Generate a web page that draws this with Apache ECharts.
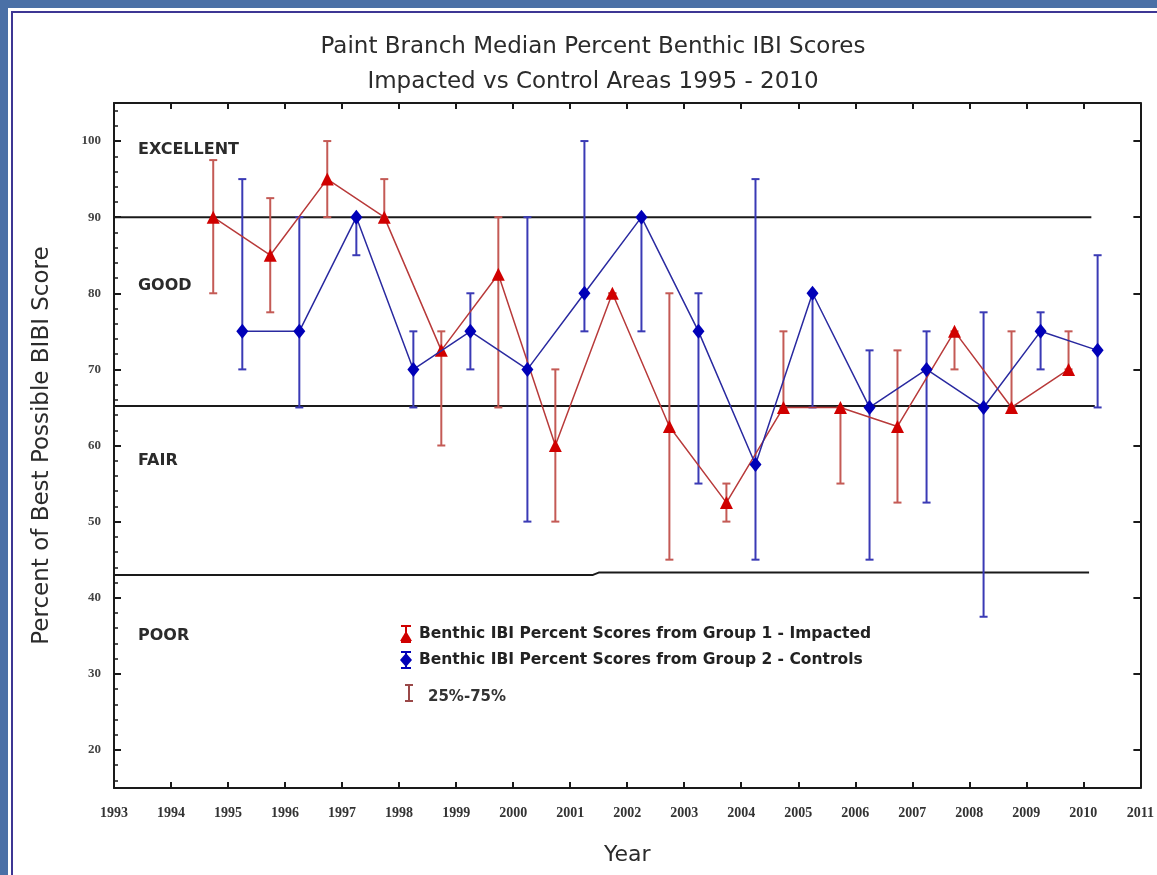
<!DOCTYPE html>
<html>
<head>
<meta charset="utf-8">
<title>Paint Branch Median Percent Benthic IBI Scores</title>
<script src="https://cdn.jsdelivr.net/npm/echarts@6/dist/echarts.min.js"></script>
<style>
  html, body { margin: 0; padding: 0; background: #ffffff; }
  #chart { width: 1157px; height: 875px; }
</style>
</head>
<body>
<div id="chart"></div>
<script>
// ---- data ----
const years = [1995, 1996, 1997, 1998, 1999, 2000, 2001, 2002, 2003, 2004, 2005, 2006, 2007, 2008, 2009, 2010];

// Group 1 - Impacted: median, 25th and 75th percentiles
const impactedMedian = [90, 85, 95, 90, 72.5, 82.5, 60, 80, 62.5, 52.5, 65, 65, 62.5, 75, 65, 70];
const impactedQ25    = [80, 77.5, 90, 90, 60, 65, 50, 80, 45, 50, 65, 55, 52.5, 70, 65, 70];
const impactedQ75    = [97.5, 92.5, 100, 95, 75, 90, 70, 80, 80, 55, 75, 65, 72.5, 75, 75, 75];

// Group 2 - Controls: median, 25th and 75th percentiles
const controlMedian = [75, 75, 90, 70, 75, 70, 80, 90, 75, 57.5, 80, 65, 70, 65, 75, 72.5];
const controlQ25    = [70, 65, 85, 65, 70, 50, 75, 75, 55, 45, 65, 45, 52.5, 37.5, 70, 65];
const controlQ75    = [95, 90, 90, 75, 80, 90, 100, 90, 80, 95, 80, 72.5, 75, 77.5, 77.5, 85];

// condition class boundaries (drawn as horizontal rules)
const boundaryExcellentGood = [[1993, 90], [2010.14, 90]];
const boundaryGoodFair      = [[1993, 65.2], [2010.2, 65.2]];
const boundaryFairPoor      = [[1993, 43.0], [2001.4, 43.0], [2001.5, 43.3], [2010.1, 43.3]];

// axis ticks
const xTickValues = [1993, 1994, 1995, 1996, 1997, 1998, 1999, 2000, 2001, 2002, 2003, 2004, 2005, 2006, 2007, 2008, 2009, 2010, 2011];
const yTickValues = [20, 30, 40, 50, 60, 70, 80, 90, 100];

// class labels
const classNames = ['EXCELLENT', 'GOOD', 'FAIR', 'POOR'];
const classLabelY = [98.8, 81, 58, 35];

// ---- layout / style ----
const IMPACTED_SHIFT = -0.26;
const CONTROL_SHIFT = 0.25;
const RED = '#d00000';
const RED_LINE = '#b83a3a';
const RED_BAR = '#c45a55';
const BLUE = '#0000b8';
const BLUE_LINE = '#2a2aa0';
const BLUE_BAR = '#3a3ab5';
const AXIS_COLOR = '#1a1a1a';
const TEXT = '#2b2b2b';

const yMinorTicks = [];
for (let v = 16; v <= 104; v += 2) { if (v % 10 !== 0) yMinorTicks.push(v); }

const impactedLine = years.map((y, i) => [y + IMPACTED_SHIFT, impactedMedian[i]]);
const controlLine = years.map((y, i) => [y + CONTROL_SHIFT, controlMedian[i]]);
const impactedBars = years.map((y, i) => [y + IMPACTED_SHIFT, impactedQ25[i], impactedQ75[i]]);
const controlBars = years.map((y, i) => [y + CONTROL_SHIFT, controlQ25[i], controlQ75[i]]);

function errorBarRenderer(color) {
  return function (params, api) {
    const x = api.value(0);
    const lo = api.coord([x, api.value(1)]);
    const hi = api.coord([x, api.value(2)]);
    const cap = 4;
    const style = { stroke: color, lineWidth: 2, fill: null };
    return {
      type: 'group',
      children: [
        { type: 'line', shape: { x1: lo[0], y1: lo[1], x2: hi[0], y2: hi[1] }, style: style },
        { type: 'line', shape: { x1: hi[0] - cap, y1: hi[1], x2: hi[0] + cap, y2: hi[1] }, style: style },
        { type: 'line', shape: { x1: lo[0] - cap, y1: lo[1], x2: lo[0] + cap, y2: lo[1] }, style: style }
      ]
    };
  };
}

function boundarySeries(data) {
  return {
    type: 'line', data: data, symbol: 'none', silent: true, z: 1,
    lineStyle: { color: AXIS_COLOR, width: 2 }, animation: false
  };
}

const plainNumber = v => String(v);

const chart = echarts.init(document.getElementById('chart'), null, { renderer: 'canvas' });

const grid = { left: 114, right: 16, top: 103, bottom: 87 };

const option = {
  backgroundColor: '#ffffff',
  animation: false,
  grid: grid,
  xAxis: [
    {
      type: 'value', min: 1993, max: 2011, interval: 1, position: 'bottom',
      name: 'Year', nameLocation: 'middle', nameGap: 56,
      nameTextStyle: { fontFamily: 'DejaVu Sans', fontSize: 22, color: TEXT },
      axisLine: { show: true, lineStyle: { color: AXIS_COLOR, width: 2 } },
      axisTick: { show: true, inside: true, length: 6, customValues: xTickValues, lineStyle: { color: AXIS_COLOR, width: 2 } },
      axisLabel: { customValues: xTickValues, formatter: plainNumber, margin: 18, fontFamily: 'Liberation Serif', fontWeight: 'bold', fontSize: 14, color: '#333' },
      splitLine: { show: false }
    },
    {
      type: 'value', min: 1993, max: 2011, interval: 1, position: 'top',
      axisLine: { show: true, lineStyle: { color: AXIS_COLOR, width: 2 } },
      axisTick: { show: true, inside: true, length: 6, customValues: xTickValues, lineStyle: { color: AXIS_COLOR, width: 2 } },
      axisLabel: { show: false },
      splitLine: { show: false }
    }
  ],
  yAxis: [
    {
      type: 'value', min: 15, max: 105, position: 'left',
      name: 'Percent of Best Possible BIBI Score', nameLocation: 'middle', nameGap: 60, nameRotate: 90,
      nameTextStyle: { fontFamily: 'DejaVu Sans', fontSize: 23, color: TEXT },
      axisLine: { show: true, lineStyle: { color: AXIS_COLOR, width: 2 } },
      axisTick: { show: true, inside: true, length: 7, customValues: yTickValues, lineStyle: { color: AXIS_COLOR, width: 2 } },
      axisLabel: { customValues: yTickValues, formatter: plainNumber, margin: 13, fontFamily: 'Liberation Serif', fontWeight: 'bold', fontSize: 13, color: '#444' },
      splitLine: { show: false }
    },
    {
      type: 'value', min: 15, max: 105, position: 'left',
      axisLine: { show: false },
      axisTick: { show: true, inside: true, length: 4, customValues: yMinorTicks, lineStyle: { color: AXIS_COLOR, width: 1.5 } },
      axisLabel: { show: false },
      splitLine: { show: false }
    },
    {
      type: 'value', min: 15, max: 105, position: 'right',
      axisLine: { show: true, lineStyle: { color: AXIS_COLOR, width: 2 } },
      axisTick: { show: true, inside: true, length: 7, customValues: yTickValues, lineStyle: { color: AXIS_COLOR, width: 2 } },
      axisLabel: { show: false },
      splitLine: { show: false }
    }
  ],
  series: [
    boundarySeries(boundaryExcellentGood),
    boundarySeries(boundaryGoodFair),
    boundarySeries(boundaryFairPoor),
    {
      name: 'Benthic IBI Percent Scores from Group 1 - Impacted (25%-75%)',
      type: 'custom', renderItem: errorBarRenderer(RED_BAR), data: impactedBars, z: 2,
      encode: { x: 0, y: [1, 2] }
    },
    {
      name: 'Benthic IBI Percent Scores from Group 2 - Controls (25%-75%)',
      type: 'custom', renderItem: errorBarRenderer(BLUE_BAR), data: controlBars, z: 2,
      encode: { x: 0, y: [1, 2] }
    },
    {
      name: 'Benthic IBI Percent Scores from Group 1 - Impacted',
      type: 'line', data: impactedLine, z: 4,
      symbol: 'triangle', symbolSize: 13, showAllSymbol: true,
      itemStyle: { color: RED, borderWidth: 0 },
      lineStyle: { color: RED_LINE, width: 1.5 }
    },
    {
      name: 'Benthic IBI Percent Scores from Group 2 - Controls',
      type: 'line', data: controlLine, z: 5,
      symbol: 'diamond', symbolSize: [12, 15], showAllSymbol: true,
      itemStyle: { color: BLUE, borderWidth: 0 },
      lineStyle: { color: BLUE_LINE, width: 1.5 }
    }
  ]
};

chart.setOption(option);

// class labels placed in data coordinates
const classLabelGraphics = classNames.map((name, i) => {
  const p = chart.convertToPixel({ xAxisIndex: 0, yAxisIndex: 0 }, [1993.42, classLabelY[i]]);
  return {
    type: 'text', x: p[0], y: p[1], silent: true,
    style: { text: name, fill: TEXT, font: 'bold 16px "DejaVu Sans"', textAlign: 'left', textVerticalAlign: 'middle' }
  };
});

// legend: marker icons with interquartile whiskers
function legendIcon(cx, cy, color, shape) {
  const s = { stroke: color, lineWidth: 2 };
  const marker = shape === 'triangle'
    ? { type: 'polygon', shape: { points: [[cx, cy - 3], [cx - 6, cy + 7], [cx + 6, cy + 7]] }, style: { fill: color } }
    : { type: 'polygon', shape: { points: [[cx, cy - 7], [cx + 6, cy], [cx, cy + 7], [cx - 6, cy]] }, style: { fill: color } };
  return [
    { type: 'line', shape: { x1: cx, y1: cy - 8, x2: cx, y2: cy + 8 }, style: s },
    { type: 'line', shape: { x1: cx - 5, y1: cy - 8, x2: cx + 5, y2: cy - 8 }, style: s },
    { type: 'line', shape: { x1: cx - 5, y1: cy + 8, x2: cx + 5, y2: cy + 8 }, style: s },
    marker
  ];
}

const legendFont = 'bold 15.5px "DejaVu Sans"';
const legendGraphics = [].concat(
  legendIcon(406, 634, RED, 'triangle'),
  legendIcon(406, 660, BLUE, 'diamond'),
  [
    { type: 'text', x: 419, y: 634, style: { text: 'Benthic IBI Percent Scores from Group 1 - Impacted', fill: '#222', font: legendFont, textVerticalAlign: 'middle' } },
    { type: 'text', x: 419, y: 660, style: { text: 'Benthic IBI Percent Scores from Group 2 - Controls', fill: '#222', font: legendFont, textVerticalAlign: 'middle' } },
    { type: 'line', shape: { x1: 409, y1: 685, x2: 409, y2: 701 }, style: { stroke: '#9a4848', lineWidth: 2 } },
    { type: 'line', shape: { x1: 405, y1: 685, x2: 413, y2: 685 }, style: { stroke: '#9a4848', lineWidth: 2 } },
    { type: 'line', shape: { x1: 405, y1: 701, x2: 413, y2: 701 }, style: { stroke: '#9a4848', lineWidth: 2 } },
    { type: 'text', x: 428, y: 697, style: { text: '25%-75%', fill: '#333', font: 'bold 15px "DejaVu Sans"', textVerticalAlign: 'middle' } }
  ]
);

// page frame and titles
const frameGraphics = [
  { type: 'rect', shape: { x: 0, y: 0, width: 1157, height: 8 }, style: { fill: '#4a70a6' }, silent: true },
  { type: 'rect', shape: { x: 0, y: 0, width: 8, height: 875 }, style: { fill: '#4a70a6' }, silent: true },
  { type: 'rect', shape: { x: 11, y: 11, width: 1146, height: 2 }, style: { fill: '#3d3694' }, silent: true },
  { type: 'rect', shape: { x: 11, y: 11, width: 2, height: 864 }, style: { fill: '#3d3694' }, silent: true },
  { type: 'text', x: 593, y: 47, silent: true,
    style: { text: 'Paint Branch Median Percent Benthic IBI Scores', fill: TEXT, font: '23px "DejaVu Sans"', textAlign: 'center', textVerticalAlign: 'middle' } },
  { type: 'text', x: 593, y: 82, silent: true,
    style: { text: 'Impacted vs Control Areas 1995 - 2010', fill: TEXT, font: '23px "DejaVu Sans"', textAlign: 'center', textVerticalAlign: 'middle' } }
];

chart.setOption({ graphic: { elements: frameGraphics.concat(classLabelGraphics, legendGraphics) } });
</script>
</body>
</html>
